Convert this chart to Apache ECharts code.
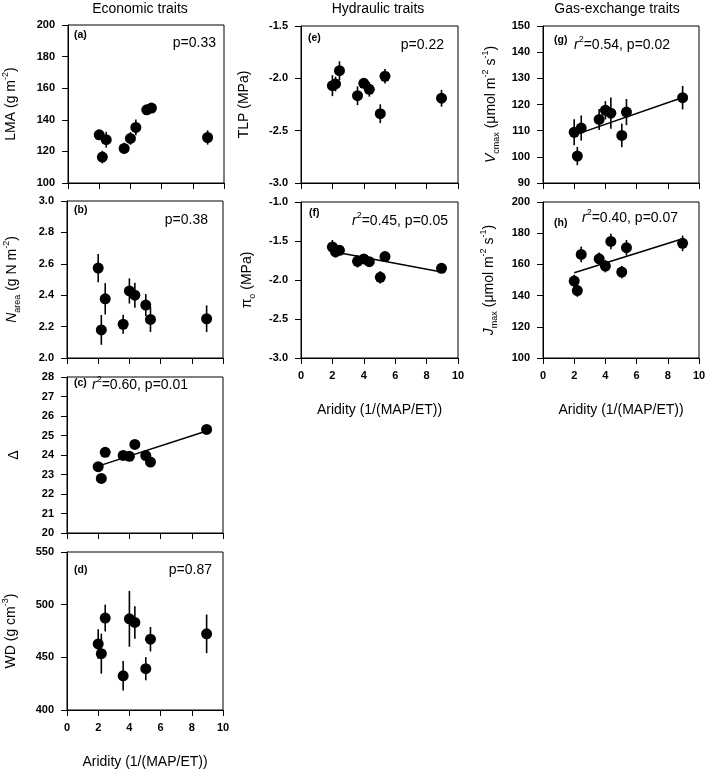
<!DOCTYPE html>
<html><head><meta charset="utf-8">
<script src="https://cdn.jsdelivr.net/npm/echarts@6/dist/echarts.min.js"></script>
<style>html,body{margin:0;padding:0;background:#fff}#c{width:709px;height:770px}</style>
</head><body><div id="c"></div>
<script>
// ---------------- data ----------------
const aridity   = [2.0, 2.2, 2.45, 3.6, 4.0, 4.35, 5.05, 5.35, 8.95];
const lma       = [130.5, 116.4, 127.4, 121.9, 128.2, 135.2, 146.3, 147.4, 128.8];
const lmaErr    = [3, 4, 5, 3.5, 4, 5, 2, 2, 4.5];
const narea     = [2.573, 2.179, 2.377, 2.215, 2.427, 2.40, 2.337, 2.246, 2.25];
const nareaErr  = [0.09, 0.095, 0.1, 0.06, 0.08, 0.08, 0.07, 0.08, 0.085];
const delta     = [23.40, 22.80, 24.14, 23.98, 23.93, 24.54, 23.97, 23.64, 25.31];
const deltaErr  = [0.1, 0.1, 0.1, 0.1, 0.1, 0.1, 0.1, 0.1, 0.1];
const wd        = [462.7, 453.5, 487.3, 432.5, 486.6, 483.1, 439.2, 467.2, 472.3];
const wdErr     = [14, 19, 12.7, 14, 26.5, 15.5, 11, 11.6, 18.3];
const tlp       = [-2.07, -2.054, -1.927, -2.166, -2.048, -2.105, -2.338, -1.98, -2.19];
const tlpErr    = [0.1, 0.07, 0.09, 0.09, 0.05, 0.07, 0.09, 0.07, 0.08];
const pio       = [-1.577, -1.64, -1.62, -1.76, -1.73, -1.765, -1.966, -1.70, -1.85];
const pioErr    = [0.09, 0.07, 0.05, 0.08, 0.05, 0.04, 0.08, 0.04, 0.04];
const vcmax     = [109.4, 100.3, 111.0, 114.3, 117.8, 116.7, 108.2, 117.1, 122.6];
const vcmaxErr  = [5, 3.5, 4.8, 4, 3.5, 6, 4.5, 5, 4.5];
const jmax      = [149.3, 143.2, 166.4, 163.6, 158.9, 174.7, 155.1, 170.7, 173.5];
const jmaxErr   = [4, 4, 5, 4, 4, 5, 4, 5, 5];

const fitDelta  = [[2.0, 23.43], [8.95, 25.23]];
const fitPio    = [[2.0, -1.635], [8.95, -1.897]];
const fitVcmax  = [[2.0, 108.3], [8.95, 122.7]];
const fitJmax   = [[2.0, 154.7], [8.95, 176.5]];

const xTicks = {min: 0, max: 10, interval: 2};
const columnTitles = ['Economic traits', 'Hydraulic traits', 'Gas-exchange traits'];
const xTitle = 'Aridity (1/(MAP/ET))';

// ---------------- layout ----------------
const F = '"Liberation Sans", Arial, Helvetica, sans-serif';
const rich = {
  n:   {fontSize: 14, fontFamily: F, color: '#000', lineHeight: 20},
  i:   {fontSize: 14, fontFamily: F, color: '#000', fontStyle: 'italic', lineHeight: 20},
  sup: {fontSize: 9,  fontFamily: F, color: '#000', verticalAlign: 'top'},
  sub: {fontSize: 9,  fontFamily: F, color: '#000', verticalAlign: 'bottom'}
};

const panels = [
  {id:'a', left:67,  top:25,  w:157, h:158, y:lma,   e:lmaErr,   min:100, max:200, iv:20,  dec:0, xl:false,
   name:'{n|LMA (g m}{sup|-2}{n|)}', gap:47, fit:null,
   tag:[74,35], stat:'{n|p=0.33}', statPos:[216,43], statAlign:'right'},
  {id:'b', left:67,  top:201, w:156, h:157, y:narea, e:nareaErr, min:2.0, max:3.0, iv:0.2, dec:1, xl:false,
   name:'{i|N}{sub|area}{n| (g N m}{sup|-2}{n|)}', gap:45, fit:null,
   tag:[74,210], stat:'{n|p=0.38}', statPos:[208,220], statAlign:'right'},
  {id:'c', left:67,  top:377, w:156, h:156, y:delta, e:deltaErr, min:20, max:28, iv:1, dec:0, xl:false,
   name:'{n|Δ}', gap:43, fit:fitDelta,
   tag:[74,383], stat:'{i|r}{sup|2}{n|=0.60, p=0.01}', statPos:[92,385], statAlign:'left'},
  {id:'d', left:67,  top:552, w:156, h:158, y:wd,    e:wdErr,    min:400, max:550, iv:50, dec:0, xl:true,
   name:'{n|WD (g cm}{sup|-3}{n|)}', gap:46, fit:null,
   tag:[74,570], stat:'{n|p=0.87}', statPos:[212,570], statAlign:'right'},
  {id:'e', left:301, top:26,  w:157, h:157, y:tlp,   e:tlpErr,   min:-3.0, max:-1.5, iv:0.5, dec:1, xl:false,
   name:'{n|TLP (MPa)}', gap:47, fit:null,
   tag:[308,38], stat:'{n|p=0.22}', statPos:[444,45], statAlign:'right'},
  {id:'f', left:301, top:202, w:157, h:156, y:pio,   e:pioErr,   min:-3.0, max:-1.0, iv:0.5, dec:1, xl:true,
   name:'{n|π}{sub|o}{n| (MPa)}', gap:44, fit:fitPio,
   tag:[309,213], stat:'{i|r}{sup|2}{n|=0.45, p=0.05}', statPos:[352,221], statAlign:'left'},
  {id:'g', left:543, top:26,  w:156, h:157, y:vcmax, e:vcmaxErr, min:90, max:150, iv:10, dec:0, xl:false,
   name:'{i|V}{sub|cmax}{n| (μmol m}{sup|-2}{n| s}{sup|-1}{n|)}', gap:42, fit:fitVcmax,
   tag:[554,40], stat:'{i|r}{sup|2}{n|=0.54, p=0.02}', statPos:[574,45], statAlign:'left'},
  {id:'h', left:543, top:202, w:156, h:156, y:jmax,  e:jmaxErr,  min:100, max:200, iv:20, dec:0, xl:true,
   name:'{i|J}{sub|max}{n| (μmol m}{sup|-2}{n| s}{sup|-1}{n|)}', gap:44, fit:fitJmax,
   tag:[554,223], stat:'{i|r}{sup|2}{n|=0.40, p=0.07}', statPos:[582,218], statAlign:'left'}
];

const grids = [], xAxes = [], yAxes = [], series = [], graphics = [];
const tickLab = {fontFamily: F, fontSize: 11, fontWeight: 'bold', color: '#000'};

panels.forEach((p, k) => {
  grids.push({left: p.left, top: p.top, width: p.w, height: p.h, show: true,
              borderColor: '#000', borderWidth: 1, backgroundColor: 'transparent', containLabel: false});
  xAxes.push({type: 'value', gridIndex: k, min: xTicks.min, max: xTicks.max, interval: xTicks.interval,
    axisLine: {show: true, onZero: false, lineStyle: {color: '#000', width: 1}},
    axisTick: {show: true, inside: false, length: 6, lineStyle: {color: '#000', width: 1}},
    axisLabel: Object.assign({show: p.xl, margin: 12}, tickLab),
    splitLine: {show: false},
    name: p.xl ? xTitle : '', nameLocation: 'middle', nameGap: 45,
    nameTextStyle: {fontFamily: F, fontSize: 14, color: '#000'}});
  yAxes.push({type: 'value', gridIndex: k, min: p.min, max: p.max, interval: p.iv,
    axisLine: {show: true, onZero: false, lineStyle: {color: '#000', width: 1}},
    axisTick: {show: true, inside: false, length: 6, lineStyle: {color: '#000', width: 1}},
    axisLabel: Object.assign({show: true, margin: 13, formatter: v => v.toFixed(p.dec)}, tickLab),
    splitLine: {show: false},
    name: p.name, nameLocation: 'middle', nameGap: p.gap, nameRotate: 90,
    nameTextStyle: {rich: rich, fontFamily: F, fontSize: 14, color: '#000'}});

  series.push({
    type: 'custom', xAxisIndex: k, yAxisIndex: k, silent: true, z: 2,
    encode: {x: 0, y: [1, 2]},
    data: p.y.map((v, i) => [aridity[i], v - p.e[i], v + p.e[i]]),
    renderItem: (params, api) => {
      const a = api.coord([api.value(0), api.value(1)]);
      const b = api.coord([api.value(0), api.value(2)]);
      return {type: 'line', shape: {x1: a[0], y1: a[1], x2: b[0], y2: b[1]},
              style: {stroke: '#000', lineWidth: 1.6}};
    }
  });
  if (p.fit) {
    series.push({type: 'line', xAxisIndex: k, yAxisIndex: k, data: p.fit, symbol: 'none', z: 3,
      lineStyle: {color: '#000', width: 1.5, opacity: 1}, silent: true});
  }
  series.push({type: 'scatter', xAxisIndex: k, yAxisIndex: k, z: 4, symbol: 'circle', symbolSize: 11,
    itemStyle: {color: '#000', opacity: 1}, data: p.y.map((v, i) => [aridity[i], v]), silent: true});

  graphics.push({type: 'text', x: p.tag[0], y: p.tag[1], silent: true,
    style: {text: '(' + p.id + ')', fontFamily: F, fontSize: 10.5, fontWeight: 'bold', fill: '#000',
            align: 'left', verticalAlign: 'middle'}});
  graphics.push({type: 'text', x: p.statPos[0], y: p.statPos[1], silent: true,
    style: {text: p.stat, rich: rich, fontFamily: F, fontSize: 14, fill: '#000',
            align: p.statAlign, verticalAlign: 'middle'}});
});

const titleX = [140, 378, 617];
columnTitles.forEach((t, i) => {
  graphics.push({type: 'text', x: titleX[i], y: 9, silent: true,
    style: {text: t, fontFamily: F, fontSize: 14, fill: '#000', align: 'center', verticalAlign: 'middle'}});
});

const chart = echarts.init(document.getElementById('c'), null, {renderer: 'canvas'});
chart.setOption({
  animation: false,
  backgroundColor: '#fff',
  grid: grids, xAxis: xAxes, yAxis: yAxes, series: series, graphic: graphics
});
</script>
</body></html>
